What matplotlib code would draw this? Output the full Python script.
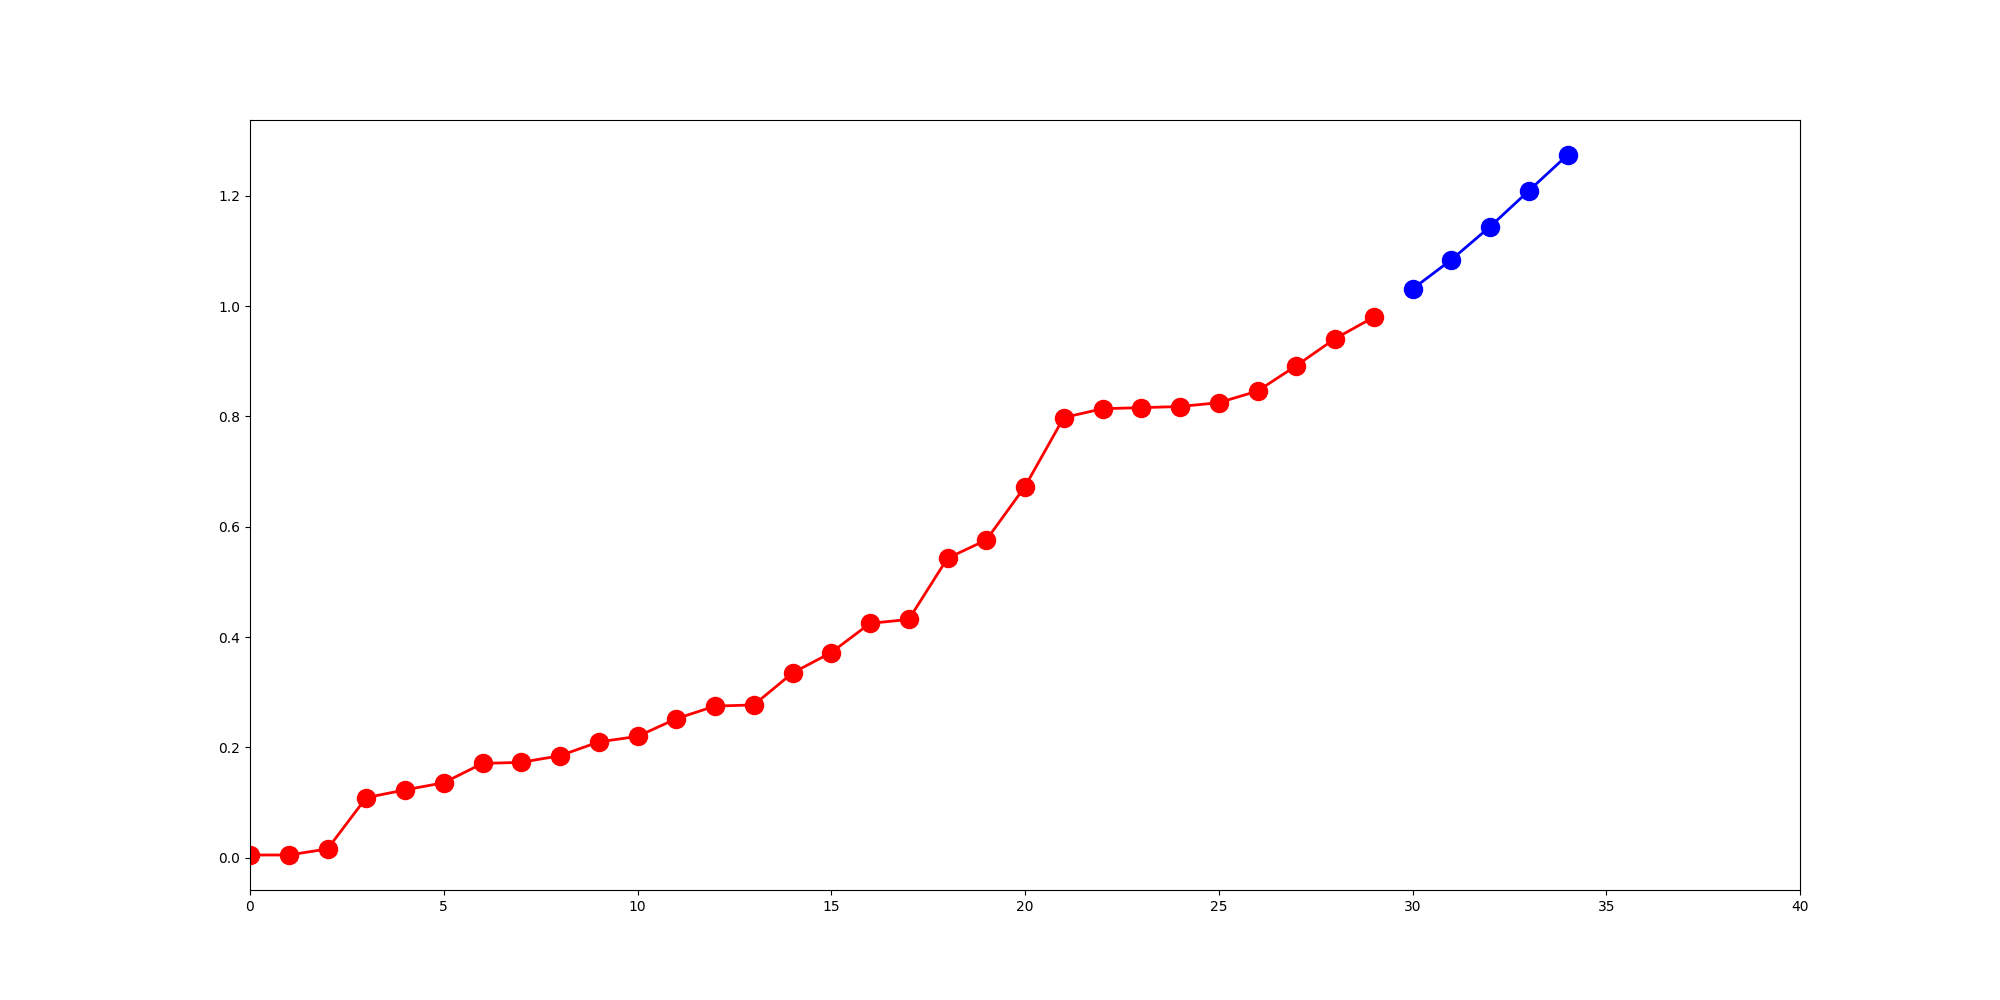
import numpy as np
import matplotlib
matplotlib.use('Agg')
import matplotlib.pyplot as plt

# observed part (red) and forecast part (blue)
x_obs = list(range(0, 30))
y_obs = [0.005, 0.005, 0.016, 0.109, 0.123, 0.136, 0.171, 0.173, 0.185, 0.210,
         0.220, 0.252, 0.275, 0.277, 0.335, 0.372, 0.425, 0.432, 0.543, 0.576,
         0.673, 0.798, 0.814, 0.816, 0.818, 0.825, 0.846, 0.892, 0.941, 0.980]
x_pred = list(range(30, 35))
y_pred = [1.031, 1.084, 1.144, 1.209, 1.274]


def main():
    fig = plt.figure(figsize=(20, 10), dpi=100)
    ax = fig.add_subplot(111)

    ax.plot(x_obs, y_obs, 'r-o', linewidth=2, markersize=13)
    ax.plot(x_pred, y_pred, 'b-o', linewidth=2, markersize=13)
    ax.set_xlim(0, 40)

    fig.savefig('out.png', dpi=100)


if __name__ == "__main__":
    main()
